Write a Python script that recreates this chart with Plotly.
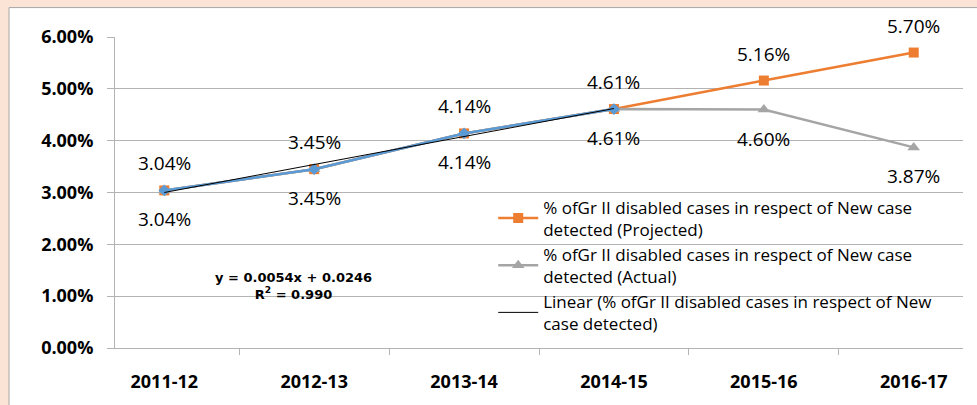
import numpy as np
import plotly.graph_objects as go

categories = ["2011-12", "2012-13", "2013-14", "2014-15", "2015-16", "2016-17"]
projected = [0.0304, 0.0345, 0.0414, 0.0461, 0.0516, 0.0570]
actual = [0.0304, 0.0345, 0.0414, 0.0461, 0.0460, 0.0387]
observed = [0.0304, 0.0345, 0.0414, 0.0461]
y_ticks = [0.0, 0.01, 0.02, 0.03, 0.04, 0.05, 0.06]
equation_text = "y = 0.0054x + 0.0246"
r2_text = "R<sup>2</sup> = 0.990"

name_proj = "% ofGr II disabled cases in respect of New case<br>detected (Projected)"
name_act = "% ofGr II disabled cases in respect of New case<br>detected (Actual)"
name_lin = "Linear (% ofGr II disabled cases in respect of New<br>case detected)"

# linear trendline fitted to the observed series
xi = np.arange(1, len(observed) + 1)
slope, intercept = np.polyfit(xi, observed, 1)
trend = slope * xi + intercept

ORANGE = "#ed7d31"
GRAY = "#a5a5a5"
BLUE = "#5b9bd5"
GRID = "#b3b3b3"
PEACH = "#fbe4d6"
FONT = "Open Sans"

fig = go.Figure()
fig.add_trace(go.Scatter(x=categories, y=projected, mode="lines+markers", name=name_proj,
                         line=dict(color=ORANGE, width=2.5),
                         marker=dict(symbol="square", size=10, color=ORANGE)))
fig.add_trace(go.Scatter(x=categories, y=actual, mode="lines+markers", name=name_act,
                         line=dict(color=GRAY, width=2.5),
                         marker=dict(symbol="triangle-up", size=11, color=GRAY)))
fig.add_trace(go.Scatter(x=categories[:len(observed)], y=observed, mode="lines+markers",
                         name="% ofGr II disabled cases in respect of New case detected",
                         showlegend=False,
                         line=dict(color=BLUE, width=2.5),
                         marker=dict(symbol="diamond", size=9, color=BLUE)))
fig.add_trace(go.Scatter(x=categories[:len(observed)], y=trend, mode="lines", name=name_lin,
                         line=dict(color="#000000", width=1)))

for c, v in zip(categories, projected):
    fig.add_annotation(x=c, y=v, text=f"{v*100:.2f}%", showarrow=False, yshift=27,
                       font=dict(family=FONT, size=19, color="#000000"))
for c, v in zip(categories, actual):
    fig.add_annotation(x=c, y=v, text=f"{v*100:.2f}%", showarrow=False, yshift=-29,
                       font=dict(family=FONT, size=19, color="#000000"))

fig.add_annotation(xref="paper", yref="paper", x=0.211, y=0.2,
                   xanchor="center", yanchor="middle",
                   text=f"{equation_text}<br>{r2_text}",
                   showarrow=False, align="center",
                   font=dict(family="DejaVu Sans", size=13, color="#000000", weight="bold"))

# white chart frame on the peach page
fig.add_shape(type="rect", xref="paper", yref="paper", layer="below",
              x0=-0.125, x1=1.05, y0=-0.2, y1=1.0946,
              fillcolor="white", line=dict(color="#a6a6a6", width=1))

fig.update_layout(
    width=977, height=405,
    margin=dict(l=115, r=14, t=37, b=51),
    paper_bgcolor=PEACH, plot_bgcolor="white",
    font=dict(family=FONT, color="#000000"),
    legend=dict(x=0.446, y=0.51, xanchor="left", yanchor="top",
                bgcolor="rgba(0,0,0,0)", font=dict(family=FONT, size=17, color="#000000"),
                tracegroupgap=3, itemwidth=40),
    showlegend=True,
)
fig.update_xaxes(type="category", ticks="outside", tickson="boundaries", ticklen=6,
                 tickcolor=GRID, showline=True, linecolor=GRID, showgrid=False,
                 ticklabelstandoff=17,
                 tickfont=dict(family=FONT, size=18, color="#000000", weight="bold"))
fig.update_yaxes(range=[0, 0.06], tickvals=y_ticks, tickformat=".2%", ticks="outside",
                 ticklen=7, tickcolor=GRID, showline=True, linecolor=GRID,
                 gridcolor=GRID, zeroline=False, ticklabelstandoff=10,
                 tickfont=dict(family=FONT, size=18, color="#000000", weight="bold"))

fig.write_html("out.html", config={"displayModeBar": False},
               post_script="document.body.style.margin='0';document.body.style.background='" + PEACH + "';")
